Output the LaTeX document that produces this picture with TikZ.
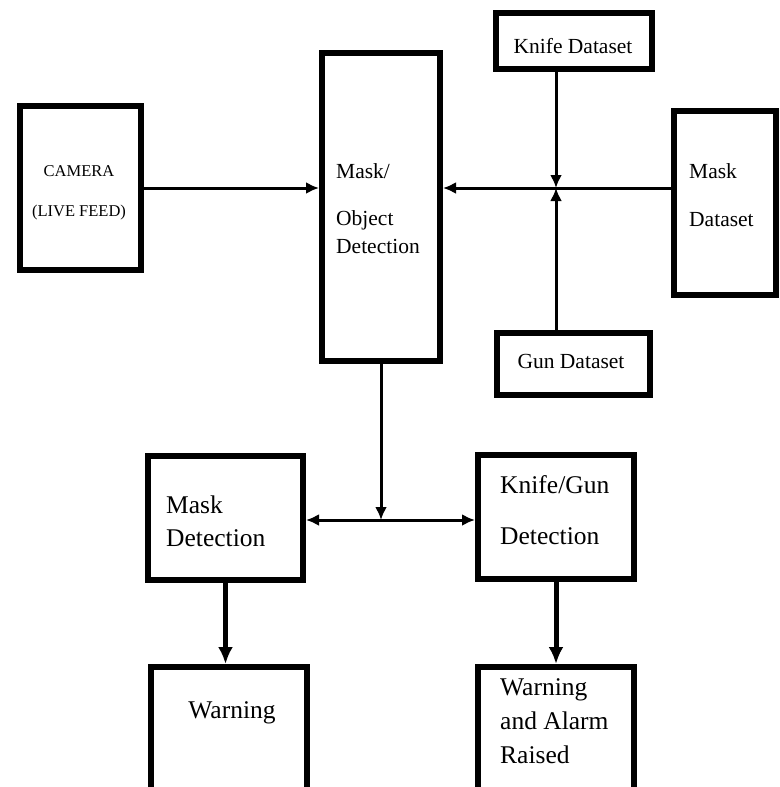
\documentclass[tikz,border=0pt]{standalone}
\usepackage{fontspec}
\setmainfont{Liberation Serif}
\usetikzlibrary{arrows.meta}

\begin{document}
\begin{tikzpicture}[
	x=1pt,
	y=-1pt,
	line join=miter,
	>={Latex[length=13pt,width=12pt]},
	box/.style={draw, line width=6pt, inner sep=0pt},
	flow/.style={->, line width=3pt},
	bigflow/.style={->, line width=5pt, >={Latex[length=17pt,width=15pt]}},
	small/.style={font=\fontsize{16.5}{20}\selectfont, align=center, inner sep=0pt},
	mid/.style={font=\fontsize{21.5}{28}\selectfont, align=left, inner sep=0pt},
	large/.style={font=\fontsize{25.5}{34}\selectfont, align=left, inner sep=0pt},
	]
\useasboundingbox (0,0) rectangle (779,787);
\clip (0,0) rectangle (779,787);
% boxes
\node[box, minimum width=121, minimum height=164] (camera) at (80.5,188) {};
\node[box, minimum width=118, minimum height=308] (detect) at (381,207) {};
\node[box, minimum width=156, minimum height=56] (knife) at (574,41) {};
\node[box, minimum width=102, minimum height=184] (maskdata) at (725,203) {};
\node[box, minimum width=153, minimum height=62] (gun) at (573.5,364) {};
\node[box, minimum width=155, minimum height=124] (maskdet) at (225.5,518) {};
\node[box, minimum width=156, minimum height=124] (kgdet) at (556,517) {};
\node[box, anchor=north, minimum width=156, minimum height=150] (warn) at (229,664) {};
\node[box, anchor=north, minimum width=156, minimum height=150] (alarm) at (556,664) {};
% texts (base = last line)
\node[small, anchor=base] (tcamera) at (79,216) {CAMERA\\[20pt](LIVE FEED)};
\node[mid, anchor=base west] (tdetect) at (336,253) {Mask/\\[19pt]Object\\Detection};
\node[mid, anchor=base] (tknife) at (573,53) {Knife Dataset};
\node[mid, anchor=base west] (tmaskdata) at (689,226) {Mask\\[20pt]Dataset};
\node[mid, anchor=base] (tgun) at (571,368) {Gun Dataset};
\node[large, anchor=base west] (tmaskdet) at (166,546) {Mask\\[-1pt]Detection};
\node[large, anchor=base west] (tkgdet) at (500,544) {Knife/Gun\\[17pt]Detection};
\node[large, anchor=base] (twarn) at (232,718) {Warning};
\node[large, anchor=base west] (talarm) at (500,763) {Warning\\and Alarm\\Raised};
% connectors
\coordinate (hub) at (556,188);
\coordinate (split) at (381,520);
\draw[flow] (camera.east |- hub) -- (detect.west |- hub);
\draw[flow] (maskdata.west |- hub) -- (detect.east |- hub);
\draw[flow] (knife.south -| hub) -- (hub);
\draw[flow] (gun.north -| hub) -- (hub);
\draw[flow] (detect.south) -- (split);
\draw[flow, <->] (maskdet.east |- split) -- (kgdet.west |- split);
\draw[bigflow] (maskdet.south) -- (maskdet.south |- warn.north);
\draw[bigflow] (kgdet.south) -- (alarm.north);
\end{tikzpicture}
\end{document}
